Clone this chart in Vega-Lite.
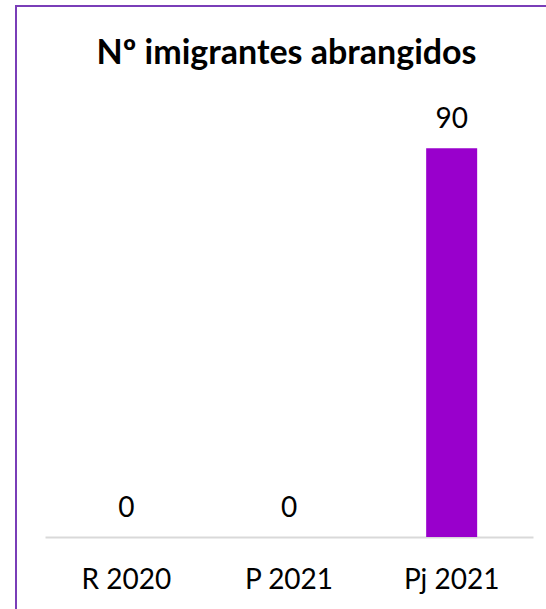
{
  "$schema": "https://vega.github.io/schema/vega-lite/v6.json",
  "autosize": {"type": "none"},
  "width": 533,
  "height": 606,
  "padding": {"left": 16, "top": 6, "right": 0, "bottom": 0},
  "background": "white",
  "config": {
    "view": {"stroke": "#7A3EB8", "strokeWidth": 2, "fill": "white"},
    "font": "Lato"
  },
  "title": {
    "text": "Nº imigrantes abrangidos",
    "font": "Lato",
    "fontSize": 34,
    "fontWeight": "bold",
    "color": "#000000",
    "anchor": "middle",
    "frame": "group",
    "baseline": "top",
    "offset": -65,
    "dx": 4
  },
  "data": {
    "values": [
      {"periodo": "R 2020", "valor": 0},
      {"periodo": "P 2021", "valor": 0},
      {"periodo": "Pj 2021", "valor": 90}
    ]
  },
  "encoding": {
    "x": {
      "field": "periodo",
      "type": "nominal",
      "sort": null,
      "scale": {"range": [29, 517], "paddingInner": 0.6865, "paddingOuter": 0.34325},
      "axis": {
        "title": null,
        "offset": -75,
        "ticks": false,
        "tickSize": 0,
        "domainColor": "#D9D9D9",
        "domainWidth": 2,
        "labelFont": "Lato",
        "labelFontSize": 28,
        "labelColor": "#000000",
        "labelAngle": 0,
        "labelBaseline": "alphabetic",
        "labelPadding": 51,
        "grid": false
      }
    },
    "y": {
      "field": "valor",
      "type": "quantitative",
      "scale": {"domain": [0, 100], "range": [531, 99]},
      "axis": null
    }
  },
  "layer": [
    {"mark": {"type": "bar", "color": "#9900CC"}},
    {
      "mark": {"type": "text", "baseline": "alphabetic", "dy": -20, "fontSize": 28, "font": "Lato", "color": "#000000"},
      "encoding": {"text": {"field": "valor", "type": "quantitative"}}
    }
  ]
}
